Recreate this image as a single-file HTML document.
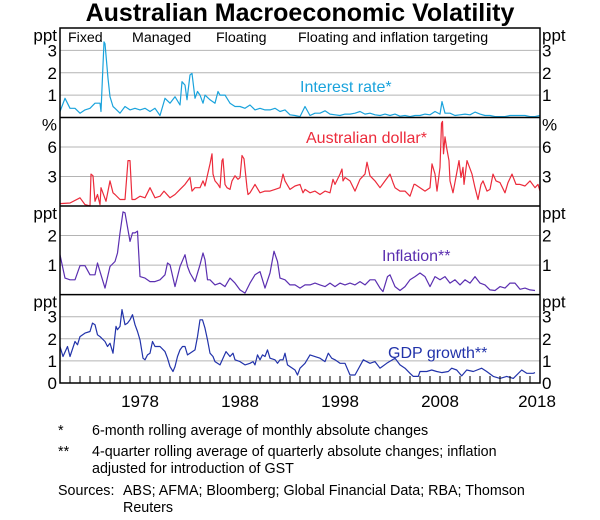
<!DOCTYPE html>
<html><head><meta charset="utf-8"><style>
body{margin:0;background:#fff;width:600px;height:520px;overflow:hidden;font-family:"Liberation Sans",Arial,sans-serif}
svg{display:block}
</style></head><body>
<svg id="chart" width="600" height="520" xmlns="http://www.w3.org/2000/svg" font-family="Liberation Sans, Arial, sans-serif">
<text x="300" y="21" text-anchor="middle" font-size="25" font-weight="bold">Australian Macroeconomic Volatility</text>
<g id="grid"></g><g id="series"></g><g id="frame"></g><g id="labels"></g>
<g font-size="14.3">
<text x="58" y="435">*</text><text x="92" y="435">6-month rolling average of monthly absolute changes</text>
<text x="58" y="456">**</text><text x="92" y="456">4-quarter rolling average of quarterly absolute changes; inflation</text>
<text x="92" y="473">adjusted for introduction of GST</text>
<text x="58" y="495">Sources:</text><text x="123" y="495">ABS; AFMA; Bloomberg; Global Financial Data; RBA; Thomson</text>
<text x="123" y="512">Reuters</text>
</g>
</svg>
<script>
const irDates=[1970,1970.5,1971,1971.5,1972,1972.5,1973,1973.5,1974,1974.1,1974.4,1974.5,1974.8,1975,1975.3,1975.5,1976,1976.5,1977,1977.5,1978,1978.5,1979,1979.5,1980,1980.5,1981,1981.5,1982,1982.2,1982.5,1982.7,1983,1983.2,1983.5,1983.75,1984,1984.3,1984.5,1985,1985.5,1985.8,1986,1986.5,1987,1987.5,1988,1988.5,1989,1989.5,1990,1990.5,1991,1991.5,1992,1992.5,1993,1993.5,1994,1994.5,1995,1995.5,1996,1996.5,1997,1997.5,1998,1998.5,1999,1999.5,2000,2000.5,2001,2001.5,2002,2002.5,2003,2003.5,2004,2004.5,2005,2005.5,2006,2006.5,2007,2007.5,2008,2008.2,2008.5,2009,2009.5,2010,2010.5,2011,2011.5,2012,2012.5,2013,2013.5,2014,2014.5,2015,2015.5,2016,2016.5,2017,2017.5,2018];
const irValues=[0.27,0.86,0.41,0.41,0.19,0.34,0.41,0.64,0.64,0.27,3.38,3.3,1.75,0.93,0.49,0.41,0.19,0.49,0.34,0.41,0.34,0.41,0.27,0.41,0.09,0.86,0.64,0.93,0.56,1.6,1.45,0.79,1.9,1.97,0.86,1.16,1.0,0.64,1.0,0.79,0.64,1.16,1.0,1.0,0.64,0.49,0.49,0.41,0.56,0.34,0.41,0.34,0.34,0.41,0.27,0.34,0.12,0.09,0.04,0.49,0.09,0.19,0.19,0.3,0.15,0.12,0.09,0.15,0.15,0.19,0.27,0.15,0.19,0.12,0.09,0.15,0.09,0.15,0.06,0.09,0.04,0.09,0.09,0.15,0.12,0.27,0.15,0.71,0.19,0.19,0.09,0.12,0.15,0.12,0.24,0.15,0.09,0.09,0.04,0.04,0.04,0.09,0.09,0.09,0.09,0.04,0.04,0.09];
const audDates=[1970,1971,1972,1972.5,1973,1973.1,1973.3,1973.5,1973.75,1974,1974.1,1974.6,1975,1975.3,1975.5,1976,1976.5,1976.8,1977,1977.2,1977.5,1978,1978.5,1979,1979.5,1980,1980.4,1981,1981.5,1982,1982.5,1983,1983.2,1983.5,1984,1984.3,1984.5,1985,1985.2,1985.3,1985.5,1985.8,1986,1986.2,1986.3,1986.5,1986.7,1987,1987.2,1987.5,1987.8,1988,1988.2,1988.4,1988.7,1988.8,1989,1989.5,1990,1990.5,1991,1991.5,1992,1992.3,1992.5,1993,1993.5,1994,1994.3,1994.5,1995,1995.5,1996,1996.5,1997,1997.3,1997.5,1998,1998.2,1998.3,1998.5,1999,1999.5,2000,2000.5,2000.7,2001,2001.5,2002,2002.5,2003,2003.3,2003.5,2004,2004.5,2005,2005.4,2005.5,2006,2006.5,2007,2007.2,2007.5,2007.7,2008,2008.15,2008.25,2008.35,2008.5,2008.65,2008.9,2009,2009.3,2009.65,2009.9,2010.1,2010.3,2010.4,2010.7,2011.2,2011.5,2011.8,2012.1,2012.3,2012.7,2013,2013.3,2013.6,2014,2014.5,2014.8,2015.2,2015.6,2016,2016.5,2017,2017.5,2017.8,2018];
const audValues=[0.24,0.31,0.83,0.14,0,3.24,3.07,0.48,1.17,0.14,1.86,0.48,2.55,1.34,1.17,0.66,0.66,4.62,4.62,0.66,0.66,1.0,0.83,1.86,0.83,1.0,1.52,0.83,1.17,1.69,2.2,2.9,1.52,1.86,1.86,2.55,2.03,4.28,5.31,3.24,2.55,2.2,1.86,4.62,4.8,2.2,1.86,1.69,2.55,3.07,2.72,2.9,5.14,4.8,1.86,1.17,1.34,2.2,1.34,1.52,1.52,1.69,1.86,3.24,2.55,1.69,2.03,2.2,1.34,1.69,1.34,1.52,1.17,1.52,1.34,2.72,2.2,3.24,3.76,2.55,2.9,2.55,1.52,2.72,3.24,4.45,3.07,2.55,1.86,2.55,3.24,2.38,1.86,1.52,1.52,1.0,2.2,2.2,1.86,1.52,1.86,4.28,3.24,1.52,3.93,8.41,8.6,5.31,7.03,6.0,4.62,2.55,1.34,3.24,4.62,2.9,3.93,2.2,4.62,3.24,1.86,0.66,2.2,2.55,1.52,1.69,3.24,2.55,2.38,1.34,2.38,3.24,2.2,2.2,2.03,2.55,1.86,2.2,1.52];
const infDates=[1970,1970.5,1971,1971.5,1972,1972.5,1973,1973.5,1973.75,1974,1974.5,1975,1975.5,1975.75,1976,1976.3,1976.5,1977,1977.25,1977.5,1977.75,1978,1978.5,1979,1979.5,1980,1980.5,1980.75,1981,1981.5,1982,1982.5,1982.75,1983,1983.5,1984,1984.3,1984.5,1984.75,1985,1985.5,1986,1986.5,1987,1987.5,1988,1988.5,1989,1989.5,1990,1990.5,1991,1991.4,1991.75,1992,1992.5,1993,1993.5,1994,1994.5,1995,1995.5,1996,1996.5,1997,1997.5,1998,1998.5,1999,1999.5,2000,2000.5,2001,2001.5,2002,2002.3,2002.75,2003,2003.5,2004,2004.5,2005,2005.5,2006,2006.5,2007,2007.5,2008,2008.5,2009,2009.5,2010,2010.5,2011,2011.5,2012,2012.5,2013,2013.5,2014,2014.5,2015,2015.5,2016,2016.5,2017,2017.5];
const infValues=[1.35,0.56,0.5,0.5,0.98,0.98,0.67,0.67,1.07,0.78,0.22,0.95,1.12,1.41,2.09,2.8,2.77,1.8,2.09,2.09,2.15,0.61,0.56,0.44,0.44,0.5,0.67,1.07,1.01,0.27,0.95,1.35,0.95,0.73,0.44,1.01,1.41,1.18,0.5,0.5,0.33,0.39,0.27,0.56,0.39,0.16,0.05,0.39,0.67,0.78,0.22,0.73,1.47,1.12,0.56,0.5,0.33,0.33,0.22,0.33,0.33,0.39,0.33,0.27,0.39,0.27,0.39,0.33,0.39,0.33,0.44,0.33,0.5,0.5,0.22,0.1,0.61,0.67,0.27,0.14,0.27,0.5,0.61,0.73,0.61,0.27,0.61,0.5,0.61,0.39,0.5,0.33,0.5,0.39,0.61,0.39,0.33,0.16,0.14,0.27,0.22,0.39,0.39,0.18,0.22,0.16,0.14];
const gdpDates=[1970,1970.3,1970.75,1971,1971.5,1971.75,1972,1972.5,1973,1973.25,1973.5,1973.75,1974,1974.5,1974.75,1975,1975.3,1975.6,1975.75,1976,1976.2,1976.5,1976.75,1977,1977.25,1977.5,1977.75,1978,1978.3,1978.5,1978.75,1979,1979.25,1979.5,1980,1980.5,1980.75,1981,1981.3,1981.5,1981.75,1982,1982.25,1982.5,1982.75,1983,1983.5,1983.75,1984,1984.25,1984.5,1984.75,1985,1985.3,1985.5,1986,1986.3,1986.6,1987,1987.3,1987.5,1988,1988.5,1989,1989.3,1989.5,1989.75,1990,1990.25,1990.5,1990.75,1991,1991.5,1991.75,1992,1992.3,1992.5,1992.75,1993,1993.5,1993.75,1994,1994.5,1995,1996,1996.5,1996.83,1997.17,1997.5,1998,1998.5,1999,1999.5,2000.33,2001,2001.5,2002,2002.67,2003.5,2004,2004.5,2005,2005.33,2005.83,2006,2006.67,2007.17,2007.67,2008.17,2008.83,2009.17,2009.67,2010.17,2010.67,2011.33,2012.17,2012.67,2013.33,2014,2014.67,2015.33,2016.17,2016.67,2017.33,2017.5];
const gdpValues=[1.65,1.2,1.65,1.2,1.88,1.73,2.1,2.26,2.33,2.71,2.64,2.18,2.1,1.88,1.65,1.8,1.35,2.56,2.41,2.56,3.32,2.64,2.71,2.86,3.09,2.64,2.33,1.95,1.12,1.05,1.27,1.35,1.88,1.65,1.65,1.42,1.12,0.74,0.52,0.74,1.2,1.5,1.65,1.65,1.27,1.35,1.5,2.1,2.86,2.86,2.48,1.95,1.35,1.2,0.97,0.82,1.12,1.42,1.2,1.35,1.05,0.97,0.82,0.89,0.97,0.82,1.27,1.05,1.27,1.2,1.5,1.12,1.05,0.89,1.05,1.05,1.35,0.82,0.74,0.59,0.36,0.67,0.89,1.27,1.12,0.97,1.35,1.12,1.05,0.89,0.89,0.36,0.36,1.05,0.89,0.97,0.67,0.89,1.12,0.82,0.67,0.44,0.3,0.3,0.52,0.52,0.59,0.52,0.47,0.52,0.67,0.59,0.32,0.59,0.52,0.67,0.52,0.3,0.21,0.3,0.21,0.59,0.44,0.44,0.47];
const xTickLabels=[1978,1988,1998,2008,2018];
const periodLabels=["Fixed","Managed","Floating","Floating and inflation targeting"];
const periodX=[68,132,216,298];

const NS="http://www.w3.org/2000/svg";
const X0=60,X1=540,T0=1970,T1=2018;
const xs=t=>X0+(t-T0)*(X1-X0)/(T1-T0);
const panels=[
 {name:'interest-rate',top:28,bot:117.5,max:4,ticks:[1,2,3],unit:'ppt',dates:irDates,vals:irValues,color:'#1aa3dc',label:'Interest rate*',lx:300,ly:92},
 {name:'australian-dollar',top:117.5,bot:206,max:9,ticks:[3,6],unit:'%',dates:audDates,vals:audValues,color:'#ec2b3b',label:'Australian dollar*',lx:306,ly:143},
 {name:'inflation',top:206,bot:294.6,max:3,ticks:[1,2],unit:'ppt',dates:infDates,vals:infValues,color:'#5b2fb0',label:'Inflation**',lx:382,ly:261},
 {name:'gdp-growth',top:294.6,bot:383,max:4,ticks:[0,1,2,3],unit:'ppt',dates:gdpDates,vals:gdpValues,color:'#2233aa',label:'GDP growth**',lx:388,ly:358}
];
function mk(tag,attrs,parent){const e=document.createElementNS(NS,tag);for(const k in attrs)e.setAttribute(k,attrs[k]);parent.appendChild(e);return e;}
const grid=document.getElementById('grid'),ser=document.getElementById('series'),frame=document.getElementById('frame'),labs=document.getElementById('labels');
panels.forEach(p=>{
 const ys=v=>p.bot-v*(p.bot-p.top)/p.max;
 p.ticks.forEach(v=>{
  if(v>0){const g=mk('line',{x1:X0,x2:X1,y1:ys(v),y2:ys(v),stroke:'#b4b4b4','stroke-width':1},grid);
  
  }
  const l=mk('text',{x:57,y:ys(v)+6,'text-anchor':'end','font-size':17},labs);l.textContent=v;
  
  
  const r=mk('text',{x:542,y:ys(v)+6,'font-size':17},labs);r.textContent=v;
  
  
 });
 const ul=mk('text',{x:57,y:p.top+13,'text-anchor':'end','font-size':17},labs);ul.textContent=p.unit;
 
 
 const ur=mk('text',{x:542,y:p.top+13,'font-size':17},labs);ur.textContent=p.unit;
 
 
 const pts=p.dates.map((d,i)=>xs(d).toFixed(1)+','+ys(p.vals[i]).toFixed(1)).join(' ');
 const pl=mk('polyline',{points:pts,fill:'none',stroke:p.color,'stroke-width':1.2,'stroke-linejoin':'round'},ser);
 
 
 const sl=mk('text',{x:p.lx,y:p.ly,'font-size':16,fill:p.color},labs);sl.textContent=p.label;
 
 
 if(p.top>28){const s=mk('line',{x1:X0,x2:X1,y1:p.top,y2:p.top,stroke:'#000','stroke-width':1.5},frame);
 
 }
});
const fr=mk('rect',{x:X0,y:28,width:X1-X0,height:383-28,fill:'none',stroke:'#000','stroke-width':1.5},frame);


for(let y=1971;y<T1;y++){const t=mk('line',{x1:xs(y),x2:xs(y),y1:383,y2:376,stroke:'#000','stroke-width':1},frame);
 
 }
xTickLabels.forEach(y=>{const t=mk('text',{x:xs(y)-(y===2018?3:0),y:407,'text-anchor':'middle','font-size':17},labs);t.textContent=y;
 
 });
periodLabels.forEach((s,i)=>{const t=mk('text',{x:periodX[i],y:42,'font-size':14.2},labs);t.textContent=s;
 
 });
</script>
</body></html>
